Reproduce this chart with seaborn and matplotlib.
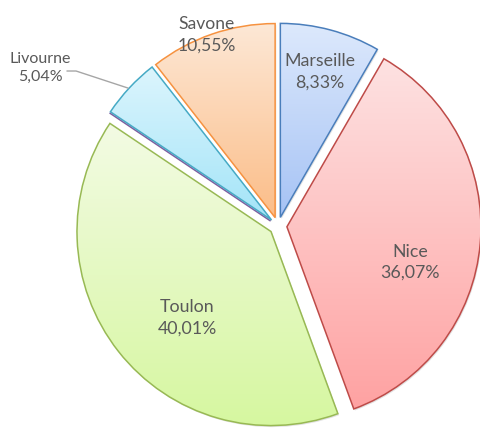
import numpy as np
import matplotlib
matplotlib.use("Agg")
import matplotlib.pyplot as plt
import seaborn as sns
from matplotlib.colors import LinearSegmentedColormap

# parts du trafic par port (%)
villes = ["Marseille", "Nice", "Toulon", "", "Livourne", "Savone"]
parts = [8.33, 36.07, 40.01, 0.0, 5.04, 10.55]
etiquettes = ["Marseille\n8,33%", "Nice\n36,07%", "Toulon\n40,01%", "", "Livourne\n5,04%", "Savone\n10,55%"]

# couleurs du dégradé (haut, bas) et du contour, façon Excel
haut = ["#dde9fc", "#fde2e2", "#f3fbe4", "#e4dcf0", "#dcf5fd", "#fde8d6"]
bas = ["#a6c3f5", "#ffa2a2", "#d6f7a0", "#b9a6d6", "#a3e4f8", "#fbbd88"]
bords = ["#4a7ebb", "#be4b48", "#98b954", "#7d5fa0", "#46aac5", "#f69240"]

# position et taille des étiquettes (coordonnées du graphique, rayon = 1)
pos_etiq = [(0.216, 0.794), (0.680, -0.186), (-0.469, -0.474), None, (-1.227, 0.814), (-0.366, 0.985)]
taille_etiq = [12.8, 12.8, 12.8, 0, 11.5, 12.6]

sns.set_theme(style="white")
plt.rcParams['font.family'] = ['Lato', 'DejaVu Sans']

fig = plt.figure(figsize=(4.8, 4.28), dpi=100)
ax = fig.add_axes([0, 0, 1, 1])

wedges, _ = ax.pie(parts, startangle=90, counterclock=False, explode=[0.046] * len(parts),
                   radius=1, wedgeprops=dict(linewidth=1.1))

for i, w in enumerate(wedges):
    w.set_edgecolor(bords[i])
    w.set_facecolor("none")
    w.set_zorder(3)
    if parts[i] > 0:
        # petite ombre grise
        ombre = plt.matplotlib.patches.Wedge((w.center[0] + 0.006, w.center[1] - 0.008), w.r,
                                              w.theta1, w.theta2, facecolor="#d0d0d0",
                                              edgecolor="none", zorder=1, alpha=0.6)
        ax.add_patch(ombre)
        # remplissage en dégradé vertical
        x0, y0, x1, y1 = w.get_path().get_extents(w.get_patch_transform()).extents
        cmap = LinearSegmentedColormap.from_list("g%d" % i, [bas[i], haut[i]])
        grad = np.linspace(0, 1, 256).reshape(-1, 1)
        im = ax.imshow(grad, cmap=cmap, origin="lower", extent=(x0, x1, y0, y1),
                       aspect="auto", zorder=2, interpolation="bilinear")
        im.set_clip_path(w)

for i, txt in enumerate(etiquettes):
    if pos_etiq[i] is None:
        continue
    ax.text(pos_etiq[i][0], pos_etiq[i][1], txt, ha="center", va="center", fontsize=taille_etiq[i],
            color="#595959", linespacing=1.4, zorder=5)

# ligne de rappel pour Livourne
ax.plot([-1.088, -1.041, -0.773], [0.799, 0.799, 0.711], color="#a6a6a6", lw=1, zorder=4)

ax.set_xlim(-1.433, 1.041)
ax.set_ylim(-1.041, 1.165)
ax.set_aspect("equal")
ax.axis("off")

fig.savefig("out.png", dpi=100)
